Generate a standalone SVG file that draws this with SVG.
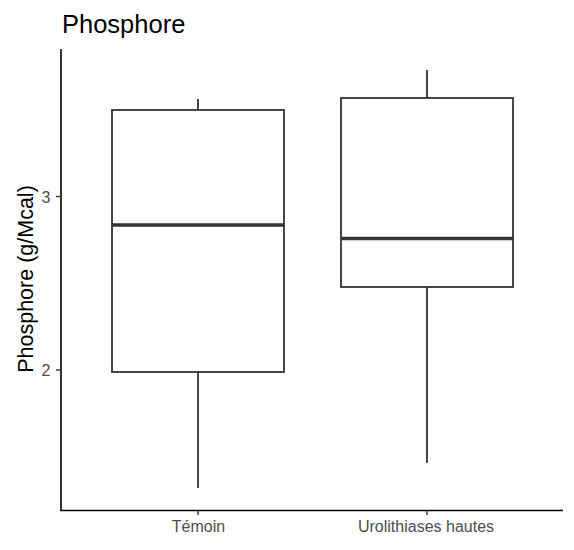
<svg xmlns="http://www.w3.org/2000/svg" width="574" height="550" viewBox="0 0 574 550">
<style>
.box{fill:#fff;stroke:#333;stroke-width:1.8}
.wh{stroke:#333;stroke-width:1.8}
.med{stroke:#333;stroke-width:3.6}
.axis{stroke:#000;stroke-width:1.6;fill:none}
.tick{stroke:#333;stroke-width:1.4}
.tl{font-family:"Liberation Sans",Arial,sans-serif;font-size:16px;fill:#4d4d4d}
.ytl{font-family:"Liberation Sans",Arial,sans-serif;font-size:16px;fill:#4d4d4d}
.title{font-family:"Liberation Sans",Arial,sans-serif;font-size:25.5px;fill:#000}
.yl{font-family:"Liberation Sans",Arial,sans-serif;font-size:21.5px;fill:#000}
</style>
<rect width="574" height="550" fill="#fff"/>
<text class="title" x="62" y="33">Phosphore</text>
<g id="connectors">
<line class="wh" x1="198" y1="99" x2="198" y2="110"/>
<line class="wh" x1="198" y1="372" x2="198" y2="488"/>
<line class="wh" x1="427" y1="70" x2="427" y2="98"/>
<line class="wh" x1="427" y1="287" x2="427" y2="463"/>
</g>
<g id="box-temoin">
<rect class="box" x="112" y="110" width="172" height="262"/>
<line class="med" x1="112" y1="225" x2="284" y2="225"/>
</g>
<g id="box-urolithiases">
<rect class="box" x="341" y="98" width="172" height="189"/>
<line class="med" x1="341" y1="238.5" x2="513" y2="238.5"/>
</g>
<g id="axes">
<polyline class="axis" points="61,49 61,510.5 563,510.5"/>
<line class="tick" x1="56" y1="196.5" x2="61" y2="196.5"/>
<line class="tick" x1="56" y1="370" x2="61" y2="370"/>
<line class="tick" x1="198" y1="510.5" x2="198" y2="515"/>
<line class="tick" x1="427" y1="510.5" x2="427" y2="515"/>
<text class="ytl" x="50.5" y="202.5" text-anchor="end">3</text>
<text class="ytl" x="50.5" y="376" text-anchor="end">2</text>
<text class="tl" x="198.5" y="532" text-anchor="middle">Témoin</text>
<text class="tl" x="426" y="532" text-anchor="middle">Urolithiases hautes</text>
<text class="yl" transform="translate(33,279) rotate(-90)" text-anchor="middle">Phosphore (g/Mcal)</text>
</g>
</svg>
